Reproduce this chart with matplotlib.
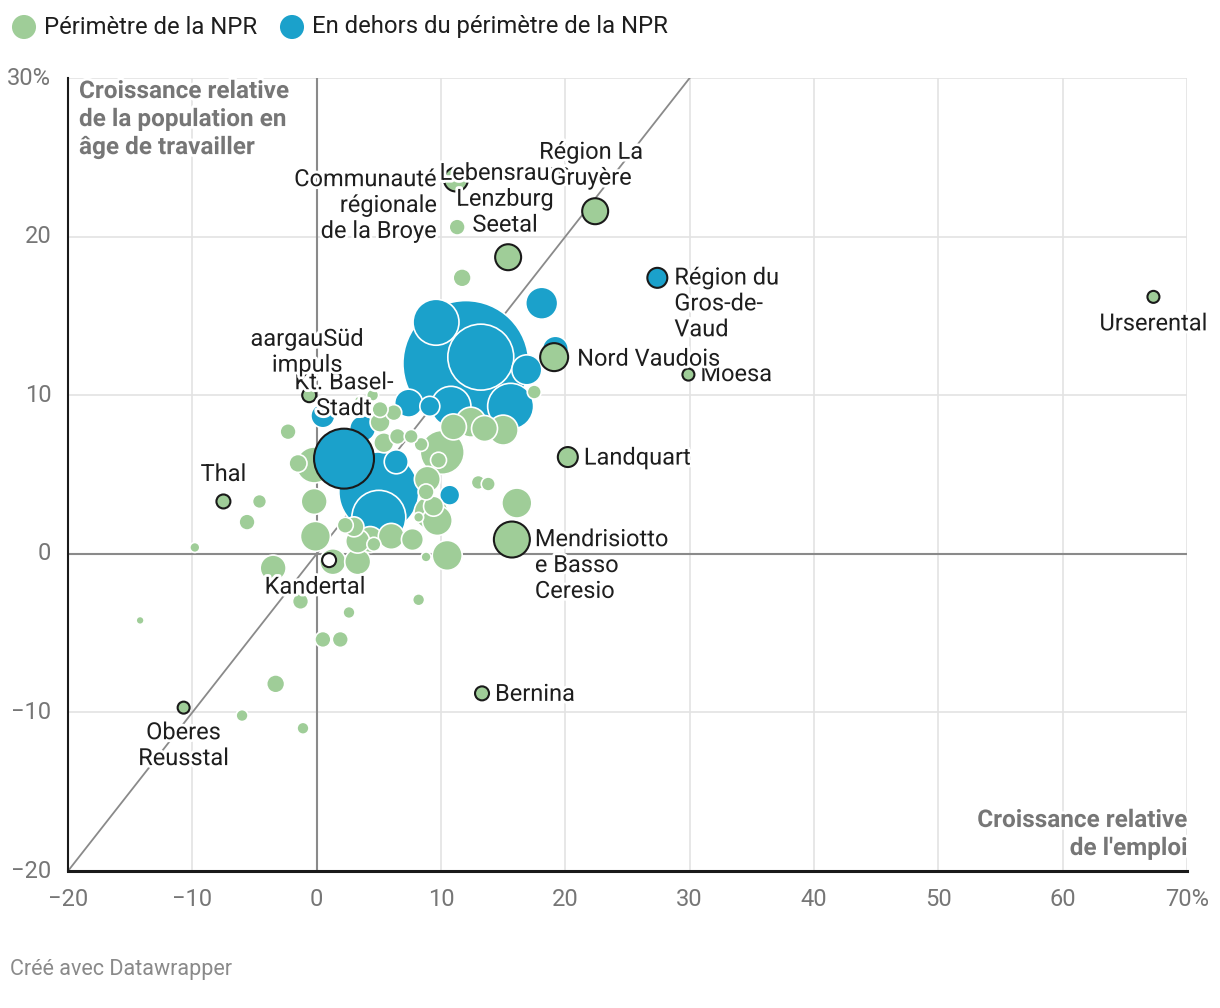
import matplotlib
matplotlib.use("Agg")
import matplotlib.pyplot as plt
import matplotlib.patheffects as pe
import numpy as np

plt.rcParams['font.family'] = ['Roboto', 'DejaVu Sans']

# ---------------- data ----------------
# labelled regions
lab_noms = ["Urserental", "Moesa", "Région du\nGros-de-\nVaud", "Nord Vaudois",
            "Région La\nGruyère", "Lebensraum\nLenzburg\nSeetal",
            "Communauté\nrégionale\nde la Broye", "aargauSüd\nimpuls",
            "Kt. Basel-\nStadt", "Thal", "Kandertal",
            "Mendrisiotto\ne Basso\nCeresio", "Landquart", "Bernina",
            "Oberes\nReusstal"]
lab_x = [67.3, 29.9, 27.4, 19.1, 22.4, 15.4, 11.2, -0.6, 2.2, -7.5, 1.0, 15.7, 20.2, 13.3, -10.7]
lab_y = [16.2, 11.3, 17.4, 12.4, 21.6, 18.7, 23.6, 10.0, 6.0, 3.3, -0.4, 0.9, 6.1, -8.8, -9.7]
lab_emplois = [3.6, 3.6, 10.0, 19.6, 16.9, 16.9, 14.4, 4.9, 90.0, 4.9, 4.9, 32.4, 10.0, 4.9, 3.6]
lab_npr = [1, 1, 0, 1, 1, 1, 1, 1, 0, 1, 1, 1, 1, 1, 1]

# unlabelled regions outside NPR perimeter
hors_x = [12.0, 5.0, 9.6, 13.2, 16.9, 15.6, 10.8, 9.1, 7.4, 18.1, 19.2, 5.0, 6.4, 10.7, 0.5, 3.7]
hors_y = [12.0, 3.9, 14.6, 12.4, 11.6, 9.3, 9.3, 9.3, 9.5, 15.8, 12.9, 2.3, 5.8, 3.7, 8.7, 7.9]
hors_emplois = [396.9, 160.0, 52.9, 108.9, 22.5, 52.9, 40.0, 10.0, 19.6, 25.6, 16.9, 72.9, 14.4, 10.0, 14.4, 16.9]

# unlabelled regions inside NPR perimeter
npr_x = [-14.2, -9.8, -6.0, -1.1, -3.3, -5.6, -4.6, -3.5, -1.3, 2.6, 0.5, 1.9, 8.2, 8.8,
         10.5, 16.1, 13.0, 13.8, 11.7, 11.3, -2.3, -1.5, -0.2, -0.2, -0.1, 1.3, 3.3, 2.3,
         3.3, 4.6, 7.7, 8.2, 8.8, 9.2, 9.7, 9.4, 8.9, 10.1, 9.8, 8.4, 12.4, 15.0, 17.5,
         5.1, 6.2, 7.6, 5.4, 6.5, 5.1, 4.3, 6.0, 3.0, 11.2, 3.5, 4.5, 11.0, 13.5]
npr_y = [-4.2, 0.4, -10.2, -11.0, -8.2, 2.0, 3.3, -0.9, -3.0, -3.7, -5.4, -5.4, -2.9, -0.2,
         -0.1, 3.2, 4.5, 4.4, 17.4, 20.6, 7.7, 5.7, 5.6, 3.3, 1.1, -0.5, -0.5, 1.8,
         0.8, 0.6, 0.9, 2.3, 3.9, 2.6, 2.1, 3.0, 4.7, 6.4, 5.9, 6.9, 8.3, 7.8, 10.2,
         8.3, 8.9, 7.4, 7.0, 7.4, 9.1, 0.9, 1.1, 1.7, 23.4, 9.6, 10.0, 8.0, 7.9]
npr_emplois = [1.6, 2.5, 3.6, 3.6, 8.1, 6.4, 4.9, 16.9, 6.4, 3.6, 6.4, 6.4, 3.6, 2.5,
               22.5, 22.5, 4.9, 4.9, 8.1, 6.4, 6.4, 8.1, 32.4, 16.9, 22.5, 16.9, 16.9, 6.4,
               14.4, 4.9, 12.1, 2.5, 6.4, 28.9, 22.5, 10.0, 16.9, 48.4, 6.4, 4.9, 22.5, 22.5, 4.9,
               10.0, 6.4, 4.9, 10.0, 6.4, 6.4, 16.9, 16.9, 10.0, 0.9, 3.6, 3.6, 16.9, 16.9]

x_ticks = [-20, -10, 0, 10, 20, 30, 40, 50, 60, 70]
x_ticklabels = ["−20", "−10", "0", "10", "20", "30", "40", "50", "60", "70%"]
y_ticks = [-20, -10, 0, 10, 20, 30]
y_ticklabels = ["−20", "−10", "0", "10", "20", "30%"]

# ---------------- style ----------------
GREEN = "#9fcd98"
BLUE = "#1ba1cb"
GRID = "#e3e3e3"
ZERO = "#8a8a8a"
TXT = "#1e1e1e"
GREY = "#767676"

fig = plt.figure(figsize=(12.2, 10.08), dpi=100)
ax = fig.add_axes([68/1220, 1-871/1008, (1187-68)/1220, (871-78)/1008])
ax.set_xlim(-20, 70)
ax.set_ylim(-20, 30)

for xv in x_ticks:
    if xv not in (0, -20):
        ax.axvline(xv, color=GRID, lw=1.2, zorder=0)
for yv in y_ticks:
    if yv not in (0, -20):
        ax.axhline(yv, color=GRID, lw=1.2, zorder=0)
ax.axvline(0, color=ZERO, lw=1.5, zorder=0.5)
ax.axhline(0, color=ZERO, lw=1.5, zorder=0.5)
ax.plot([-20, 30], [-20, 30], color=ZERO, lw=1.3, zorder=0.6)

for s in ["top", "right"]:
    ax.spines[s].set_visible(False)
ax.spines["bottom"].set_color("#1a1a1a")
ax.spines["bottom"].set_linewidth(2.2)
ax.spines["left"].set_color("#1a1a1a")
ax.spines["left"].set_linewidth(1.5)

ax.set_xticks(x_ticks)
ax.set_xticklabels(x_ticklabels)
ax.set_yticks(y_ticks)
ax.set_yticklabels(y_ticklabels)
ax.tick_params(length=0, labelsize=17, labelcolor=GREY)
ax.tick_params(axis="x", pad=12)
ax.tick_params(axis="y", pad=12)
for lbl in ax.get_yticklabels():
    lbl.set_verticalalignment("center")

# ---------------- bubbles ----------------
K = 20.7  # points^2 per unit
xs, ys, ss, fcs = [], [], [], []
for x, y, e in zip(hors_x, hors_y, hors_emplois):
    xs.append(x); ys.append(y); ss.append(e * K); fcs.append(BLUE)
for x, y, e in zip(npr_x, npr_y, npr_emplois):
    xs.append(x); ys.append(y); ss.append(e * K); fcs.append(GREEN)
order = np.argsort(-np.array(ss), kind="stable")
ax.scatter(np.array(xs)[order], np.array(ys)[order], s=np.array(ss)[order],
           c=[fcs[i] for i in order], edgecolors="white", linewidths=1.2,
           zorder=3, clip_on=False)

lx, ly, ls, lf = [], [], [], []
for nom, x, y, e, n in zip(lab_noms, lab_x, lab_y, lab_emplois, lab_npr):
    fc = GREEN if n else BLUE
    if nom == "Kandertal":
        fc = "white"
    lx.append(x); ly.append(y); ls.append(e * K); lf.append(fc)
lorder = np.argsort(-np.array(ls), kind="stable")
ax.scatter(np.array(lx)[lorder], np.array(ly)[lorder], s=np.array(ls)[lorder],
           c=[lf[i] for i in lorder], edgecolors="#1a1a1a", linewidths=1.5,
           zorder=4, clip_on=False)

# ---------------- labels ----------------
# offsets in pixels (dx, dy downward of block centre), alignment
offs = {
    "Urserental": (0, 27, "center"),
    "Moesa": (12, 0, "left"),
    "Région du\nGros-de-\nVaud": (17, 26, "left"),
    "Nord Vaudois": (23, 2, "left"),
    "Région La\nGruyère": (-4, -46, "center"),
    "Lebensraum\nLenzburg\nSeetal": (-3, -58, "center"),
    "Communauté\nrégionale\nde la Broye": (-19, 26, "right"),
    "aargauSüd\nimpuls": (-2, -43, "center"),
    "Kt. Basel-\nStadt": (0, -63, "center"),
    "Thal": (0, -27, "center"),
    "Kandertal": (-14, 27, "center"),
    "Mendrisiotto\ne Basso\nCeresio": (23, 26, "left"),
    "Landquart": (16, 1, "left"),
    "Bernina": (13, 1, "left"),
    "Oberes\nReusstal": (0, 38, "center"),
}
draw_order = ["Urserental", "Moesa", "Région du\nGros-de-\nVaud", "Nord Vaudois",
              "Communauté\nrégionale\nde la Broye", "Lebensraum\nLenzburg\nSeetal",
              "Région La\nGruyère", "Kt. Basel-\nStadt", "aargauSüd\nimpuls", "Thal",
              "Kandertal", "Mendrisiotto\ne Basso\nCeresio", "Landquart", "Bernina",
              "Oberes\nReusstal"]
for nom in draw_order:
    i = lab_noms.index(nom)
    dx, dy, ha = offs[nom]
    ax.annotate(nom, (lab_x[i], lab_y[i]), xytext=(dx * 0.72, -dy * 0.72),
                textcoords="offset points", ha=ha, va="center", multialignment=ha,
                fontsize=17, color=TXT, linespacing=1.16, zorder=5,
                path_effects=[pe.withStroke(linewidth=4, foreground="white")])

# axis titles
ax.text(79/1220, 1-80/1008, "Croissance relative\nde la population en\nâge de travailler",
        transform=fig.transFigure, ha="left", va="top", fontsize=17.5, fontweight="bold",
        color=GREY, linespacing=1.28, zorder=6,
        path_effects=[pe.withStroke(linewidth=4, foreground="white")])
ax.text(1187/1220, 1-860/1008, "Croissance relative\nde l'emploi",
        transform=fig.transFigure, ha="right", va="bottom", fontsize=17.5, fontweight="bold",
        color=GREY, linespacing=1.28, multialignment="right", zorder=6,
        path_effects=[pe.withStroke(linewidth=4, foreground="white")])

# legend
leg_ax = fig.add_axes([0, 0, 1, 1], facecolor="none")
leg_ax.set_xlim(0, 1220); leg_ax.set_ylim(1008, 0); leg_ax.axis("off")
leg_ax.scatter([24, 292], [27, 27], s=[300, 300], c=[GREEN, BLUE], edgecolors="none")
leg_ax.text(44, 27, "Périmètre de la NPR", fontsize=17.2, color=TXT, va="center", ha="left")
leg_ax.text(312, 27, "En dehors du périmètre de la NPR", fontsize=17.2, color=TXT, va="center", ha="left")
leg_ax.text(10, 970, "Créé avec Datawrapper", fontsize=15.5, color="#8a8a8a", va="center", ha="left")

fig.savefig("out.png", dpi=100)
